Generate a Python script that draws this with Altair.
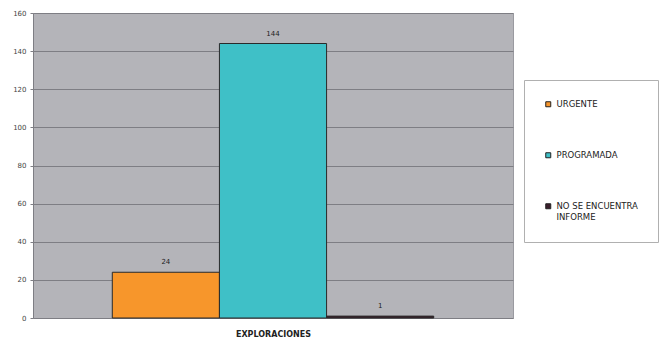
import altair as alt
import pandas as pd

series = ["URGENTE", "PROGRAMADA", "NO SE ENCUENTRA INFORME"]
values = [24, 144, 1]
colors = ["#F7962B", "#3FC0C7", "#3B1F2B"]
y_ticks = [0, 20, 40, 60, 80, 100, 120, 140, 160]

df = pd.DataFrame({"serie": series, "valor": values})

x_enc = alt.X("serie:N", sort=series,
              scale=alt.Scale(paddingInner=0, paddingOuter=0.74),
              axis=alt.Axis(labels=False, ticks=False, domain=False, title="EXPLORACIONES",
                            titleFontSize=8, titleFont="DejaVu Sans", titleFontWeight="bold",
                            titleColor="#222222", titlePadding=12))
y_enc = alt.Y("valor:Q", scale=alt.Scale(domain=[0, 160], nice=False),
              axis=alt.Axis(values=y_ticks, title=None, labelFontSize=7, labelColor="#444444",
                            labelFont="DejaVu Sans", grid=True, gridColor="#7E7E84", gridWidth=1,
                            domainColor="#7E7E84", tickColor="#7E7E84", tickSize=3, labelPadding=4,
                            labelOverlap=False))

base = alt.Chart(df).encode(x=x_enc, y=y_enc)

bars = base.mark_bar(stroke="#2A2A2A", strokeWidth=1).encode(
    color=alt.Color("serie:N", sort=series,
                    scale=alt.Scale(domain=series, range=colors),
                    legend=alt.Legend(
                        title=None, orient="none", legendX=491, legendY=67,
                        symbolType="square", symbolSize=25, symbolStrokeColor="#222222",
                        symbolStrokeWidth=1, labelFontSize=8.5, labelFont="DejaVu Sans",
                        labelColor="#222222", rowPadding=41, padding=20,
                        fillColor="white", strokeColor="#B0B0B0",
                        labelLimit=200,
                        labelExpr="datum.label == 'NO SE ENCUENTRA INFORME' ? ['NO SE ENCUENTRA', 'INFORME'] : datum.label")),
)

labels = base.mark_text(baseline="bottom", dy=-7, fontSize=7, font="DejaVu Sans",
                        color="#222222").encode(
    text=alt.Text("valor:Q"),
)

chart = alt.layer(bars, labels).properties(
    width=480, height=305,
    autosize=alt.AutoSizeParams(type="none"),
    padding={"left": 33, "top": 13, "right": 154, "bottom": 26},
    background="white",
).configure_view(fill="#B4B4B9", stroke="#9A9AA0")

chart.save("out.html", embed_options={"renderer": "svg", "actions": False})
